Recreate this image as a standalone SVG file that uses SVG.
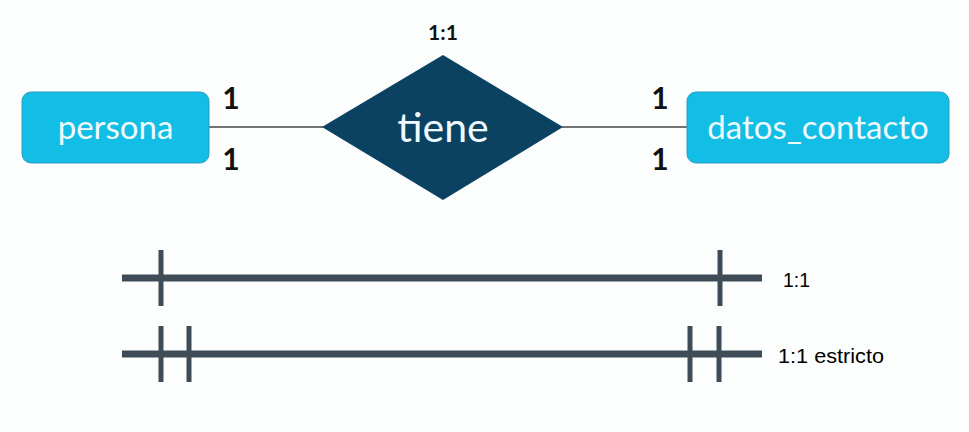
<svg xmlns="http://www.w3.org/2000/svg" width="969" height="432" viewBox="0 0 969 432">
<style>
.ent{fill:#12bee5;stroke:#2a9cbf;stroke-width:1}
.lbl{font-family:Lato,"Open Sans",sans-serif;fill:#eefaff;text-anchor:middle}
.card{font-family:Lato,"Open Sans",sans-serif;font-weight:bold;fill:#111;text-anchor:middle}
.thin{stroke:#444;stroke-width:1.5;fill:none}
.bar{stroke:#3e4c58;stroke-width:7;fill:none}
.tick{stroke:#3e4c58;stroke-width:5;fill:none}
.leg{font-family:"Liberation Sans",Arial,sans-serif;font-size:21px;fill:#000}
</style>
<rect width="969" height="432" fill="#fcfdfd"/>
<g id="connectors">
<line class="thin" x1="209" y1="127" x2="323" y2="127"/>
<line class="thin" x1="562" y1="127" x2="687" y2="127"/>
</g>
<g id="persona">
<rect class="ent" x="22" y="92" width="187" height="71" rx="9"/>
<text class="lbl" x="115.5" y="139" font-size="33">persona</text>
</g>
<g id="tiene">
<polygon points="322,127 443,55 563,127 443,200" fill="#0b4262"/>
<text class="lbl" x="443" y="142" font-size="41">tiene</text>
</g>
<g id="datos_contacto">
<rect class="ent" x="687" y="92" width="262" height="71" rx="9"/>
<text class="lbl" x="818" y="139" font-size="33">datos_contacto</text>
</g>
<g id="labels">
<text class="card" x="443" y="40" font-size="21">1:1</text>
<text class="card" x="231" y="109" font-size="30">1</text>
<text class="card" x="231" y="170" font-size="30">1</text>
<text class="card" x="660" y="109" font-size="30">1</text>
<text class="card" x="660" y="170" font-size="30">1</text>
</g>
<g id="legend">
<line class="bar" x1="122" y1="278" x2="762" y2="278"/>
<line class="tick" x1="161" y1="250" x2="161" y2="306"/>
<line class="tick" x1="720" y1="250" x2="720" y2="306"/>
<text class="leg" x="783" y="287" textLength="27" lengthAdjust="spacingAndGlyphs">1:1</text>
<line class="bar" x1="122" y1="354" x2="762" y2="354"/>
<line class="tick" x1="161" y1="326" x2="161" y2="382"/>
<line class="tick" x1="189" y1="326" x2="189" y2="382"/>
<line class="tick" x1="690" y1="326" x2="690" y2="382"/>
<line class="tick" x1="719" y1="326" x2="719" y2="382"/>
<text class="leg" x="778" y="363" textLength="106" lengthAdjust="spacingAndGlyphs">1:1 estricto</text>
</g>
</svg>
